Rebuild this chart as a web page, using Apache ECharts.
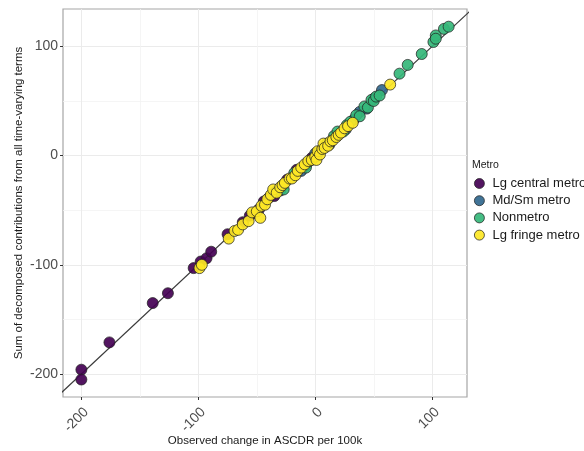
<!DOCTYPE html>
<html>
<head>
<meta charset="utf-8">
<script src="https://cdn.jsdelivr.net/npm/echarts@6/dist/echarts.min.js"></script>
<style>
html,body{margin:0;padding:0;background:#fff;}
#chart{width:584px;height:451px;}
</style>
</head>
<body>
<div id="chart"></div>
<script>
// ---- Data ----
const categories = ['Lg central metro', 'Md/Sm metro', 'Nonmetro', 'Lg fringe metro'];
const colors = ['#440154', '#31688E', '#35B779', '#FDE725'];
const tickValues = [-200, -100, 0, 100];
const minorValues = [-150, -50, 50];
const identityLine = [[-300, -300], [200, 200]];

const lgCentral = [[-200,-196],[-200,-205],[-176,-171],[-139,-135],[-126,-126],[-104,-103],[-98,-97],
  [-93,-94],[-89,-88],[-75,-72],[-62,-61],[-56,-55],[-48,-49],[-44,-42],[-40,-39],[-35,-37],[-24,-22],
  [-16,-13],[-8,-9],[-3,-2]];
const mdSm = [[-30,-32],[-12,-14],[0,2],[12,10],[26,24],[33,33],[38,40],[44,43],[50,52],[57,60]];
const nonmetro = [[-34,-33],[-27,-31],[-18,-16],[-8,-11],[-5,-5],[2,2],[10,11],[16,18],[19,22],[24,22],
  [27,28],[30,31],[35,37],[38,36],[42,45],[45,44],[48,51],[50,50],[52,54],[55,55],[72,75],[79,83],
  [91,93],[101,104],[103,110],[103,107],[110,116],[114,118]];
const lgFringe = [[-99,-103],[-97,-100],[-74,-76],[-69,-69],[-66,-68],[-62,-63],[-57,-60],[-54,-52],
  [-50,-51],[-47,-57],[-46,-46],[-43,-45],[-41,-40],[-38,-36],[-36,-31],[-33,-34],[-30,-29],[-28,-27],
  [-26,-25],[-22,-21],[-20,-21],[-17,-18],[-15,-14],[-12,-11],[-9,-8],[-6,-5],[-3,-4],[0,-1],[1,-4],
  [2,4],[4,1],[6,6],[7,11],[8,7],[11,9],[13,13],[15,14],[18,17],[20,19],[22,21],[25,25],[28,27],
  [32,30],[64,65]];
const seriesData = [lgCentral, mdSm, nonmetro, lgFringe];

const xRange = [-215.7, 129.7];
const yRange = [-221, 134.2];

const FONT = 'Liberation Sans, Arial, sans-serif';
const chart = echarts.init(document.getElementById('chart'), null, {renderer: 'canvas'});

function mainAxis(range, extra) {
  return Object.assign({
    type: 'value', min: range[0], max: range[1],
    axisLine: {show: false, onZero: false},
    axisTick: {show: true, length: 3, customValues: tickValues, lineStyle: {color: '#333', width: 1}},
    axisLabel: {customValues: tickValues, color: '#4d4d4d', fontSize: 14, fontFamily: FONT, margin: 5},
    splitLine: {show: true, lineStyle: {color: '#ebebeb', width: 1}},
    nameMoveOverlap: false,
    nameTextStyle: {color: '#1a1a1a', fontSize: 11.5, fontFamily: FONT}
  }, extra);
}
function minorAxis(range, extra) {
  return Object.assign({
    type: 'value', min: range[0], max: range[1],
    axisLine: {show: false, onZero: false},
    axisTick: {show: false, customValues: minorValues},
    axisLabel: {show: false, customValues: minorValues},
    splitLine: {show: true, lineStyle: {color: '#f3f3f3', width: 0.8}}
  }, extra);
}

const option = {
  backgroundColor: '#fff',
  animation: false,
  title: {text: 'Metro', left: 472, top: 160, padding: 0, textStyle: {fontSize: 10.5, fontWeight: 'normal', color: '#1a1a1a', fontFamily: FONT}},
  legend: {
    orient: 'vertical', left: 474, top: 177, padding: 0, itemWidth: 10, itemHeight: 10, itemGap: 4.2,
    icon: 'circle', data: categories,
    textStyle: {fontSize: 13, color: '#1a1a1a', fontFamily: FONT, padding: [0,0,0,3]},
    itemStyle: {borderColor: '#222', borderWidth: 0.8}
  },
  grid: {left: 63, right: 117, top: 9, bottom: 54, show: true, borderColor: '#a6a6a6', borderWidth: 1.2,
    backgroundColor: 'transparent', containLabel: false, outerBoundsMode: 'none'},
  xAxis: [
    mainAxis(xRange, {name: 'Observed change in ASCDR per 100k', nameLocation: 'middle', nameGap: 38,
      axisLabel: {customValues: tickValues, color: '#4d4d4d', fontSize: 14, fontFamily: FONT, margin: 8, rotate: 45, align: 'right', verticalAlign: 'top'}}),
    minorAxis(xRange, {})
  ],
  yAxis: [
    mainAxis(yRange, {name: 'Sum of decomposed contributions from all time-varying terms', nameLocation: 'middle', nameGap: 38, nameRotate: 90}),
    minorAxis(yRange, {})
  ],
  series: [
    {type: 'line', data: identityLine, symbol: 'none', silent: true, clip: true, z: 2,
     lineStyle: {color: '#3a3a3a', width: 1.2}, legendHoverLink: false}
  ].concat(categories.map((c, i) => ({
    type: 'scatter', name: c, data: seriesData[i], symbolSize: 11, z: 3 + i,
    itemStyle: {color: colors[i], borderColor: '#222', borderWidth: 0.8, opacity: 0.92}
  })))
};
chart.setOption(option);
</script>
</body>
</html>
